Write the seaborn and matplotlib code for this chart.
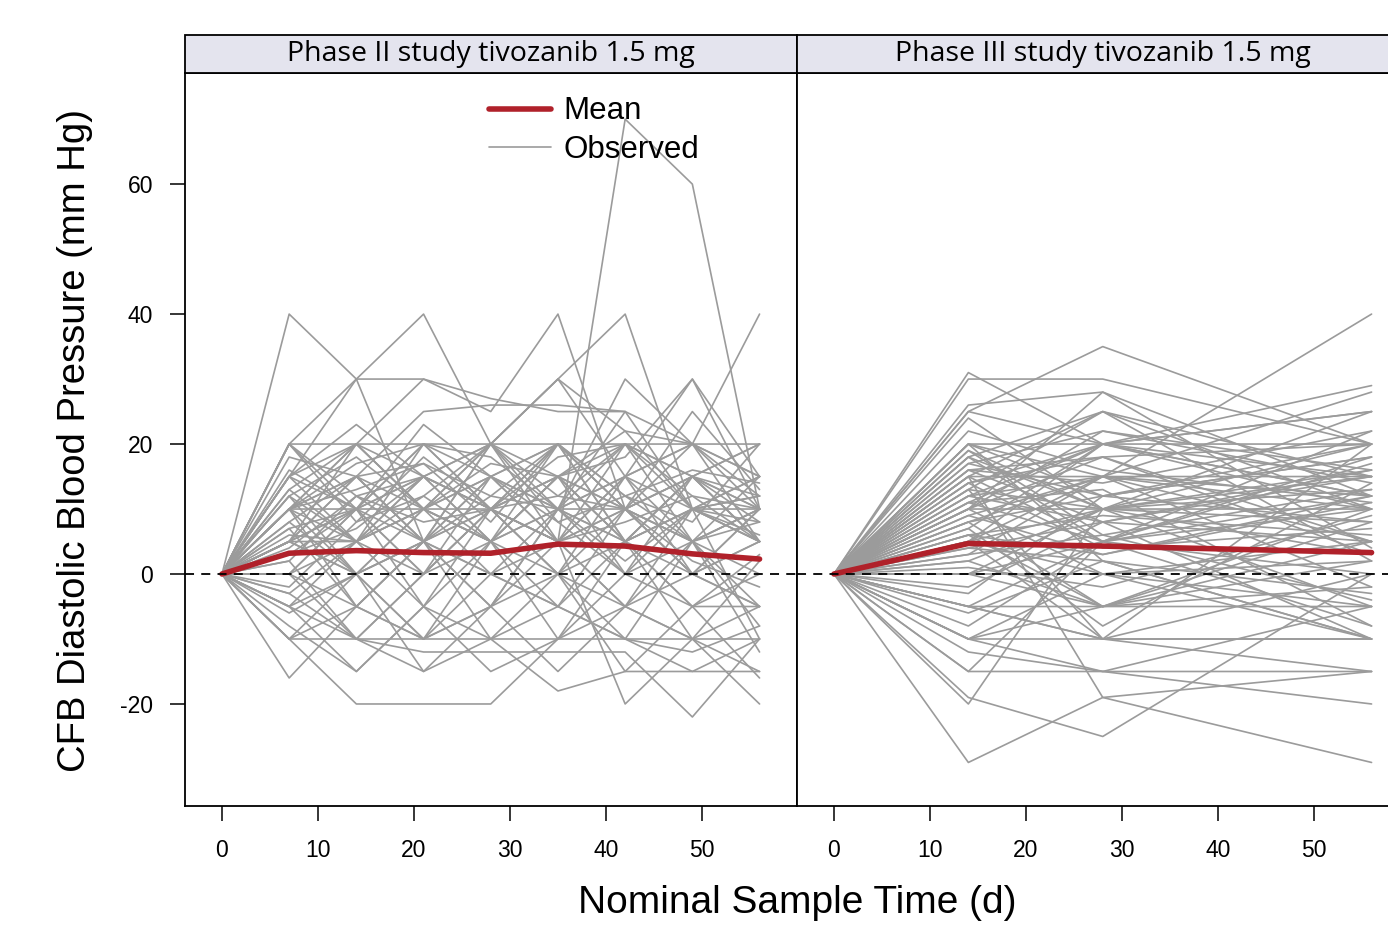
import numpy as np
import pandas as pd
import seaborn as sns
import matplotlib.pyplot as plt
from matplotlib.patches import Rectangle
from matplotlib.lines import Line2D

nan = np.nan

# Phase II: nominal sample days and change from baseline per subject
times_p2 = [0, 7, 14, 21, 28, 35, 42, 49, 56]
obs_p2 = [
    [0, 40, 30, 5, 10, 15, 5, 10, 5],
    [0, 15, 30, 40, 20, 5, 10, 0, 5],
    [0, 20, 30, 30, 27, 25, 25, nan, nan],
    [0, 10, 20, 30, 25, 40, 10, 15, 5],
    [0, 5, 10, 15, 10, 5, 70, 60, 10],
    [0, 10, 15, 10, 20, 30, 40, 10, 15],
    [0, 5, 0, 10, 15, 10, 30, 20, 40],
    [0, 20, 20, 20, 20, 20, 20, 20, 20],
    [0, 15, 23, 15, 20, 30, 15, 30, 15],
    [0, -10, -10, -10, -10, -10, -10, -10, -10],
    [0, -16, -5, -10, 0, 5, -5, -10, -15],
    [0, -10, -20, -20, -20, -10, -5, 0, 5],
    [0, -5, -15, -5, -10, -18, -15, -15, -15],
    [0, 0, -10, -12, -12, -12, -12, -22, -10],
    [0, 5, 0, -15, -5, 5, -20, -10, -20],
    [0, 12, 5, 20, 10, 0, 15, 5, 10],
    [0, 8, 15, 5, 12, 20, 10, 15, 12],
    [0, 3, 10, 10, 5, 15, 10, 5, 8],
    [0, -5, 5, 0, 10, 5, -5, 5, 0],
    [0, 10, 0, 5, -5, 10, 5, -5, -5],
    [0, 16, 10, 15, 10, 12, 20, 10, 10],
    [0, 5, 15, 17, 12, 10, 20, 15, 20],
    [0, 0, 5, -5, 5, 0, 10, 0, -5],
    [0, 10, 10, 0, 15, 5, 15, 20, 5],
    [0, -2, 8, 12, 5, 10, 2, 10, 6],
    [0, 7, -5, 5, 0, -5, 5, -10, 2],
    [0, 13, 20, 10, 17, 15, 10, 25, 13],
    [0, -6, 0, 5, -5, 10, 0, 5, -8],
    [0, 20, 10, 23, 15, 20, 5, 15, 10],
    [0, 10, 5, 10, 20, 30, 22, 20, 15],
    [0, -10, 0, -10, 5, -5, -10, 5, -12],
    [0, 0, 10, 5, 0, 10, 10, 0, 10],
    [0, 5, 20, 10, 5, 15, 0, 10, 5],
    [0, 15, 5, 15, 20, 8, 12, 5, 15],
    [0, 2, -10, 0, 10, 15, 5, -5, 3],
    [0, 10, 17, 20, 18, 10, 15, 10, 12],
    [0, -3, 5, 10, 0, -5, 10, 15, 5],
    [0, 5, 10, -5, 10, 20, 5, 10, 8],
    [0, 12, 0, 5, 15, 5, 20, 5, -5],
    [0, 0, -5, -10, -5, 0, -10, -15, -10],
    [0, 4, 12, 8, 10, 5, 8, 12, 10],
    [0, -8, -15, -5, -15, -10, 0, -5, -16],
    [0, 10, 15, 25, 26, 26, 25, 20, 12],
    [0, 20, 8, 18, 10, 15, 18, 30, 10],
    [0, 6, 5, 15, 5, 20, 12, 8, 20],
    [0, 13, 5, 10, 15, 20, 10, 5, 10],
    [0, 10, 20, 15, 5, 10, 25, 10, 15],
    [0, -5, -10, 0, 5, -10, 5, 0, -5],
    [0, 15, 10, 20, 15, 10, 5, 15, 20],
    [0, 5, 15, 5, 20, 10, 15, 20, 10],
    [0, 8, 0, 10, 5, 15, 5, 10, 12],
    [0, 0, 10, 20, 10, 0, 5, 15, 8],
    [0, 12, 18, 10, 5, 15, 20, 12, 5],
    [0, -5, 0, -10, -5, -15, -5, -10, -5],
    [0, 10, -5, 5, 10, 0, -5, 10, -10],
    [0, 3, 7, 15, 10, 5, 15, 0, 10],
    [0, 18, 15, 5, 20, 12, 10, 20, 15],
    [0, 5, 5, 12, 20, 15, 22, 10, 5],
    [0, -10, -5, 5, -10, 0, -15, -5, 0],
    [0, 15, 20, 10, 10, 20, 10, 5, 10],
    [0, 2, 12, 5, 15, 8, 0, 15, 5],
    [0, 10, 13, 17, 8, 20, 12, 16, 14],
    [0, 7, 10, 0, 10, 5, 10, 2, -2],
    [0, -3, -10, -15, -10, -5, -10, -12, -8],
    [0, 20, 12, 15, 10, 18, 20, 15, 10],
]
mean_p2 = [0, 3.2, 3.6, 3.3, 3.2, 4.6, 4.3, 3.1, 2.3]

# Phase III
times_p3 = [0, 14, 28, 56]
obs_p3 = [
    [0, 31, 20, 15], [0, 30, 30, 20], [0, 25, 35, 20], [0, 26, 28, 12],
    [0, 25, 20, 29], [0, 24, 10, 25], [0, 20, 15, 28], [0, 5, 15, 40],
    [0, 20, 20, 20], [0, 19, 10, 15], [0, 18, 5, 22], [0, 15, 25, 10],
    [0, 17, 12, 18], [0, 16, 8, 5], [0, 15, 15, 15], [0, 14, 18, 20],
    [0, 13, 10, 8], [0, 12, 20, 12], [0, 11, 5, 10], [0, 10, 22, 16],
    [0, 10, 10, 10], [0, 10, 0, 5], [0, 9, 15, 12], [0, 8, -5, 2],
    [0, 8, 12, 18], [0, 7, 20, 10], [0, 6, 3, 11], [0, 5, 10, -5],
    [0, 5, -10, 0], [0, 4, 8, 15], [0, 3, 15, 5], [0, 2, -5, 8],
    [0, 0, 10, 3], [0, 0, 0, -5], [0, 0, 5, 12], [0, -2, 8, -10],
    [0, -5, -5, -5], [0, -5, 5, 0], [0, -5, -10, 20], [0, -6, 2, -3],
    [0, -10, -10, -10], [0, -10, 0, -10], [0, -10, -5, 5], [0, -12, -15, -20],
    [0, -15, -15, -15], [0, -20, 10, 13], [0, -29, -19, -15], [0, -19, -25, 0],
    [0, -15, 5, -8], [0, 13, -10, -15], [0, 15, -19, -29], [0, 20, 2, -10],
    [0, 12, 15, -2], [0, 18, 25, 2], [0, 10, 28, 4], [0, 14, 4, 7],
    [0, 5, 20, 25], [0, -3, 12, 20], [0, 1, -2, 9], [0, 7, -8, 14],
    [0, 16, 18, 3], [0, -8, 5, 17], [0, 11, 13, -8], [0, 6, 9, 6],
    [0, 22, 16, 11], [0, 3, 6, -4],
    [0, 14, 20, 12], [0, 12, 8, 16], [0, 20, 12, 8], [0, 17, 22, 14],
    [0, 9, 3, 12], [0, 15, 5, 18], [0, 8, 15, 10], [0, 5, 0, 2],
    [0, -5, -10, -10], [0, -10, -15, -5], [0, 2, 10, 16], [0, 18, 10, 20],
    [0, 13, 25, 15], [0, 10, 18, 5], [0, 6, -5, -2], [0, 4, 2, -10],
    [0, 16, 14, 22], [0, 19, 6, 13], [0, 11, 20, 25], [0, 0, -5, 10],
]
mean_p3 = [0, 4.7, 4.3, 3.3]

panel_titles = ["Phase II study tivozanib 1.5 mg", "Phase III study tivozanib 1.5 mg"]


def to_long(times, rows):
    recs = []
    for i, r in enumerate(rows):
        for t, v in zip(times, r):
            if not np.isnan(v):
                recs.append((i, t, v))
    return pd.DataFrame(recs, columns=["id", "time", "cfb"])


sns.set_style("white")
plt.rcParams["font.family"] = ["Liberation Sans", "DejaVu Sans"]
plt.rcParams["axes.unicode_minus"] = False
plt.rcParams["text.color"] = "black"
plt.rcParams["xtick.color"] = "black"
plt.rcParams["ytick.color"] = "black"
plt.rcParams["axes.labelcolor"] = "black"

grey = "#9b9b9b"
red = "#b0212a"

fig = plt.figure(figsize=(13.88, 9.26), dpi=100)
W, H = 1388, 926
ax_h = 733 / H
ax_w = 612 / W
ax1 = fig.add_axes([185 / W, 120 / H, ax_w, ax_h])
ax2 = fig.add_axes([797 / W, 120 / H, ax_w, ax_h])

panels = [(ax1, times_p2, obs_p2, mean_p2), (ax2, times_p3, obs_p3, mean_p3)]
for k, (ax, times, rows, mean) in enumerate(panels):
    df = to_long(times, rows)
    sns.lineplot(data=df, x="time", y="cfb", units="id", estimator=None,
                 color=grey, lw=1.2, ax=ax, legend=False)
    mdf = pd.DataFrame({"time": times, "cfb": mean})
    sns.lineplot(data=mdf, x="time", y="cfb", color=red, lw=4, ax=ax,
                 legend=False, solid_capstyle="round")
    ax.axhline(0, color="black", lw=1.3, ls=(0, (5, 4)), zorder=5)
    ax.set_xlim(-3.85, 59.9)
    ax.set_ylim(-35.7, 77.1)
    ax.set_xticks([0, 10, 20, 30, 40, 50])
    ax.set_xlabel("")
    ax.set_ylabel("")
    ax.tick_params(axis="x", direction="out", length=11, width=1.1,
                   pad=13, labelsize=16.5, bottom=True, colors="black")
    for s in ax.spines.values():
        s.set_color("black")
        s.set_linewidth(1.3)
    # strip
    strip_h = 38 / 733
    ax.add_patch(Rectangle((0, 1), 1, strip_h, transform=ax.transAxes,
                           facecolor="#e4e4ee", edgecolor="black", lw=1.3,
                           clip_on=False, zorder=3))
    ax.text(0.5, 1 + strip_h / 2, panel_titles[k], transform=ax.transAxes,
            ha="center", va="center", fontsize=20.5, color="black",
            family=["Open Sans", "DejaVu Sans"])

ax1.set_yticks([-20, 0, 20, 40, 60])
ax1.tick_params(axis="y", direction="out", length=11, width=1.1,
                pad=12, labelsize=16.5, left=True, colors="black")
ax2.set_yticks([])

handles = [Line2D([], [], color=red, lw=4), Line2D([], [], color=grey, lw=1.2)]
leg = ax1.legend(handles, ["Mean", "Observed"], loc="upper left",
                 bbox_to_anchor=(0.496, 0.968), frameon=False, fontsize=22.5,
                 handlelength=2.0, handletextpad=0.4, labelspacing=0.27,
                 borderpad=0, borderaxespad=0)
for t in leg.get_texts():
    t.set_color("black")

fig.text(75 / W, 1 - 440 / H, "CFB Diastolic Blood Pressure (mm Hg)",
         rotation=90, ha="center", va="center", fontsize=27.5, color="black")
fig.text(797 / W, 1 - 903 / H, "Nominal Sample Time (d)",
         ha="center", va="center", fontsize=28, color="black")

fig.savefig("out.png", dpi=100)
